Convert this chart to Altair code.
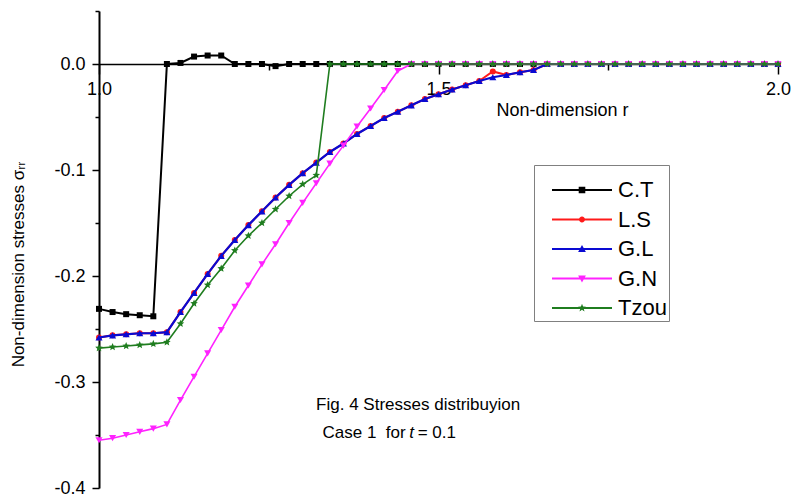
import math
import altair as alt
import pandas as pd

FONT = "Liberation Sans"

# ---------------- data ----------------
r = [1.00, 1.02, 1.04, 1.06, 1.08, 1.10, 1.12, 1.14, 1.16, 1.18,
     1.20, 1.22, 1.24, 1.26, 1.28, 1.30, 1.32, 1.34, 1.36, 1.38,
     1.40, 1.42, 1.44, 1.46, 1.48, 1.50, 1.52, 1.54, 1.56, 1.58,
     1.60, 1.62, 1.64, 1.66, 1.68, 1.70, 1.72, 1.74, 1.76, 1.78,
     1.80, 1.82, 1.84, 1.86, 1.88, 1.90, 1.92, 1.94, 1.96, 1.98, 2.00]

series_names = ["C.T", "L.S", "G.L", "G.N", "Tzou"]

ct = [-0.231, -0.234, -0.236, -0.237, -0.238, 0.0, 0.001, 0.007, 0.008, 0.008,
      0.0, 0.0, 0.0, -0.002, 0.0] + [0.0] * 36

gl = [-0.258, -0.256, -0.255, -0.254, -0.254, -0.253, -0.234, -0.216, -0.198, -0.181,
      -0.166, -0.152, -0.139, -0.126, -0.114, -0.103, -0.093, -0.083, -0.075, -0.066,
      -0.0585, -0.051, -0.045, -0.039, -0.033, -0.0285, -0.024, -0.020, -0.016, -0.0125,
      -0.0104, -0.0078, -0.0057] + [0.0] * 18

ls = [-0.258, -0.256, -0.255, -0.254, -0.254, -0.253, -0.234, -0.216, -0.198, -0.181,
      -0.166, -0.152, -0.139, -0.126, -0.114, -0.103, -0.093, -0.083, -0.075, -0.066,
      -0.0585, -0.051, -0.045, -0.039, -0.033, -0.0285, -0.024, -0.020, -0.016, -0.007,
      -0.0104, -0.0078, -0.0057] + [0.0] * 18

gn = [-0.355, -0.353, -0.350, -0.347, -0.344, -0.340, -0.317, -0.295, -0.273, -0.251,
      -0.229, -0.209, -0.189, -0.170, -0.150, -0.131, -0.1125, -0.094, -0.077, -0.059,
      -0.042, -0.0245, -0.0066] + [0.0] * 28

tzou = [-0.268, -0.267, -0.266, -0.265, -0.264, -0.2625, -0.245, -0.226, -0.2085, -0.193,
        -0.176, -0.162, -0.150, -0.137, -0.1245, -0.1135, -0.105] + [0.0] * 34

values_by_series = {"C.T": ct, "L.S": ls, "G.L": gl, "G.N": gn, "Tzou": tzou}

x_ticks = [1.0, 1.5, 2.0]
x_minor = [1.25, 1.75]
y_ticks = [-0.4, -0.3, -0.2, -0.1, 0.0]
y_minor = [-0.35, -0.25, -0.15, -0.05, 0.05]

caption1 = "Fig. 4 Stresses distribuyion"
caption2_left = "Case 1\u00a0\u00a0for"
caption2_t = "t"
caption2_right = "= 0.1"

# ---------------- styles ----------------
colors = ["#000000", "#ff1a1a", "#0a0ad2", "#ff22ff", "#1f7d1f"]
widths = {"C.T": 2.0, "L.S": 2.0, "G.L": 2.2, "G.N": 1.6, "Tzou": 1.6}


def star(R, ri, cx=0.0):
    pts = []
    for k in range(10):
        a = math.radians(-90 + 36 * k)
        rad = R if k % 2 == 0 else ri
        pts.append((cx + rad * math.cos(a), rad * math.sin(a)))
    return "M" + "L".join(f"{x:.4f},{y:.4f}" for x, y in pts) + "Z"


star_marker = star(1.0, 0.45)
marker_shapes = {"C.T": "square", "L.S": "circle", "G.L": "triangle-up",
                 "G.N": "triangle-down", "Tzou": star_marker}
marker_sizes = {"C.T": 36, "L.S": 36, "G.L": 50, "G.N": 50, "Tzou": 64}

line_rect = "M-1,-0.03H1V0.03H-1Z"
legend_paths = [
    line_rect + "M-0.11,-0.11H0.11V0.11H-0.11Z",
    line_rect + "M0.1,0A0.1,0.1 0 1,1 -0.1,0A0.1,0.1 0 1,1 0.1,0Z",
    line_rect + "M0,-0.13L0.13,0.1L-0.13,0.1Z",
    line_rect + "M0,0.13L-0.13,-0.1L0.13,-0.1Z",
    line_rect + star(0.14, 0.06),
]

rows = []
for s in series_names:
    for rv, v in zip(r, values_by_series[s]):
        rows.append({"r": rv, "v": v, "series": s})
df = pd.DataFrame(rows)

xscale = alt.Scale(domain=[1.0, 2.0], nice=False, zero=False)
yscale = alt.Scale(domain=[-0.4, 0.05], nice=False, zero=False)
color_scale = alt.Scale(domain=series_names, range=colors)

main_x_axis = alt.Axis(values=x_ticks, format=".1f", tickSize=10, tickWidth=1.5,
                       tickColor="black", domainColor="black", domainWidth=1.5,
                       labelFont=FONT, labelFontSize=18, labelColor="black",
                       labelPadding=6, labelFlush=False, offset=-424, grid=False,
                       title="Non-dimension r", titleFont=FONT, titleFontSize=18,
                       titleFontWeight="normal", titleColor="black",
                       titleX=463, titleY=46, titleAlign="center", titleBaseline="middle")
minor_x_axis = alt.Axis(values=x_minor, tickSize=6, tickWidth=1.5, tickColor="black",
                        labels=False, domain=False, title=None, offset=-424, grid=False,
                        orient="bottom")
main_y_axis = alt.Axis(values=y_ticks,
                       labelExpr="datum.value < 0 ? '-' + format(-datum.value, '.1f') : format(datum.value, '.1f')",
                       tickSize=7, tickWidth=1.5, tickColor="black",
                       domainColor="black", domainWidth=2, grid=False,
                       labelFont=FONT, labelFontSize=18, labelColor="black", labelPadding=7,
                       title="Non-dimension stresses σᵣᵣ", titleFont=FONT, titleFontSize=17,
                       titleFontWeight="normal", titleColor="black",
                       titleX=-81, titleY=253, titleAngle=270,
                       titleAlign="center", titleBaseline="middle")
minor_y_axis = alt.Axis(values=y_minor, tickSize=4, tickWidth=1.5, tickColor="black",
                        labels=False, domain=False, title=None, grid=False, orient="left")

base = alt.Chart(df)
layers = []
first = True
for s in series_names:
    sub = base.transform_filter(alt.datum.series == s)
    if first:
        xa, ya = main_x_axis, main_y_axis
        xb, yb = minor_x_axis, minor_y_axis
    else:
        xa = ya = xb = yb = None
    line = sub.mark_line(strokeWidth=widths[s]).encode(
        x=alt.X("r:Q", scale=xscale, axis=xa),
        y=alt.Y("v:Q", scale=yscale, axis=ya),
        color=alt.Color("series:N", scale=color_scale, legend=None),
    )
    pts = sub.mark_point(shape=marker_shapes[s], size=marker_sizes[s], filled=True,
                         opacity=1).encode(
        x=alt.X("r:Q", scale=xscale, axis=xb),
        y=alt.Y("v:Q", scale=yscale, axis=yb),
        color=alt.Color("series:N", scale=color_scale, legend=None),
    )
    layers += [line, pts]
    first = False

legend_props = dict(title=" ", titleFontSize=9, titlePadding=4,
                    orient="none", legendX=435, legendY=154,
                    strokeColor="#808080", fillColor="white", padding=2,
                    symbolSize=3600, symbolStrokeWidth=0, symbolOffset=16,
                    clipHeight=20, rowPadding=7.5, labelOffset=6,
                    labelExpr="datum.label + '\u00a0\u00a0'",
                    labelFont=FONT, labelFontSize=22, labelColor="black")

legend_layer = alt.Chart(df).transform_filter("false").mark_point(
    filled=True, opacity=1).encode(
    color=alt.Color("series:N", scale=color_scale, legend=alt.Legend(**legend_props)),
    shape=alt.Shape("series:N", scale=alt.Scale(domain=series_names, range=legend_paths),
                    legend=alt.Legend(**legend_props)),
)
layers.append(legend_layer)

cap1 = pd.DataFrame({"r": [1.47], "v": [-0.3217], "text": [caption1]})
cap2 = pd.DataFrame({"r": [1.4605], "v": [-0.3478],
                     "left": [caption2_left], "t": [caption2_t], "right": [caption2_right]})

txt_common = dict(font=FONT, fontSize=17, color="black", baseline="middle")
layers.append(alt.Chart(cap1).mark_text(align="center", **txt_common).encode(
    x=alt.X("r:Q", scale=xscale, axis=None), y=alt.Y("v:Q", scale=yscale, axis=None),
    text="text:N"))
layers.append(alt.Chart(cap2).mark_text(align="right", dx=-6, **txt_common).encode(
    x=alt.X("r:Q", scale=xscale, axis=None), y=alt.Y("v:Q", scale=yscale, axis=None),
    text="left:N"))
layers.append(alt.Chart(cap2).mark_text(align="center", fontStyle="italic", **txt_common).encode(
    x=alt.X("r:Q", scale=xscale, axis=None), y=alt.Y("v:Q", scale=yscale, axis=None),
    text="t:N"))
layers.append(alt.Chart(cap2).mark_text(align="left", dx=6, **txt_common).encode(
    x=alt.X("r:Q", scale=xscale, axis=None), y=alt.Y("v:Q", scale=yscale, axis=None),
    text="right:N"))

chart = alt.layer(*layers).resolve_axis(
    x="independent", y="independent"
).resolve_legend(color="independent", shape="independent").properties(
    width=679, height=477,
    padding={"left": 99, "top": 11, "right": 15, "bottom": 9},
    autosize=alt.AutoSizeParams(type="none"),
    background="white",
).configure_view(stroke=None)

chart.save("out.html", embed_options={"renderer": "svg", "actions": False})
